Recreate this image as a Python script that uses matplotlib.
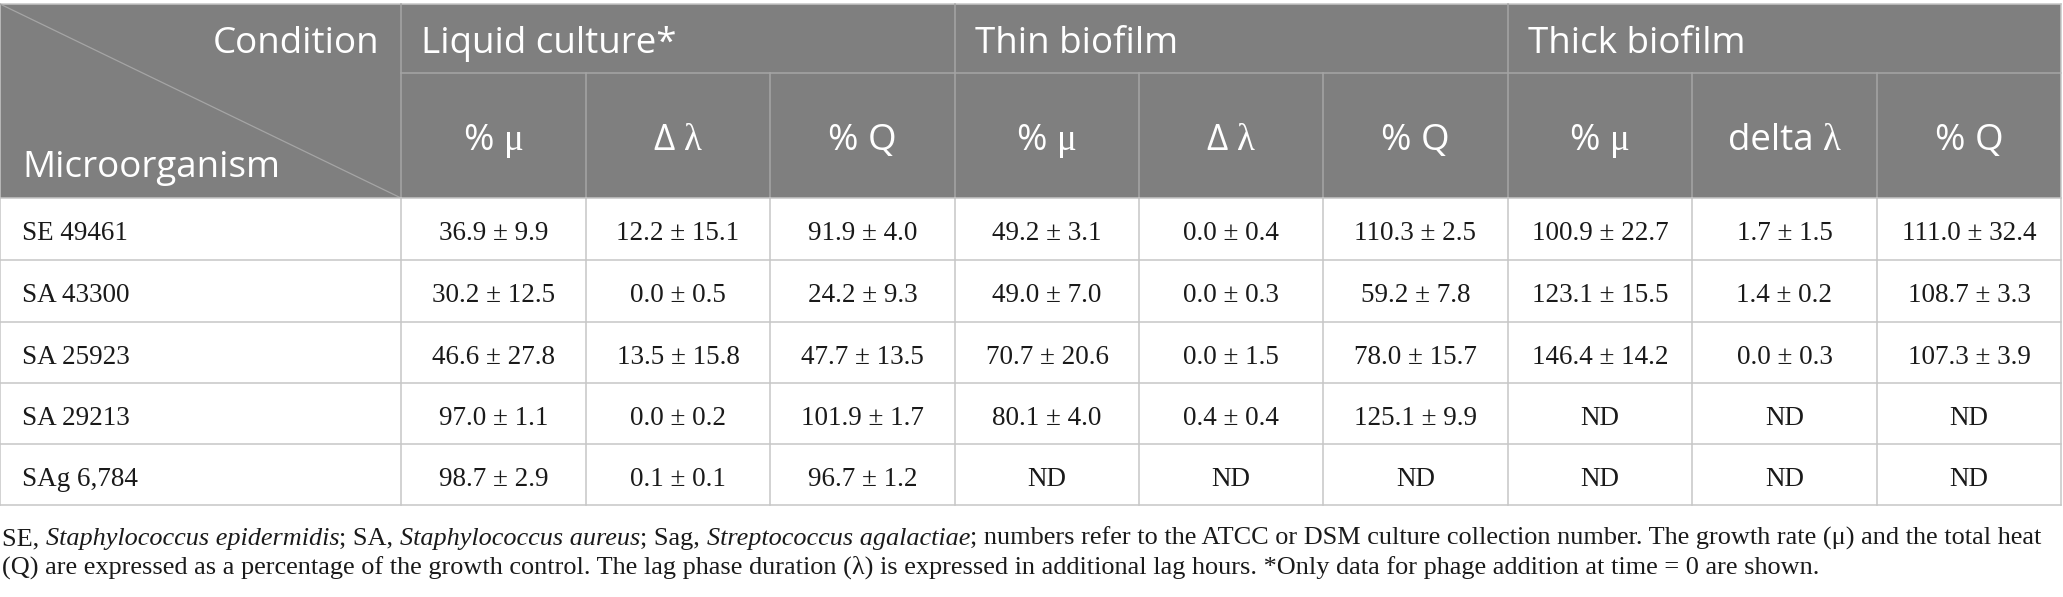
import matplotlib
matplotlib.use('Agg')
import matplotlib.pyplot as plt
from matplotlib.patches import Rectangle

# ---------------- data ----------------
microorganisms = ["SE 49461", "SA 43300", "SA 25923", "SA 29213", "SAg 6,784"]
conditions = ["Liquid culture*", "Thin biofilm", "Thick biofilm"]
# sub headers: (sans part, serif greek part)
sub_headers = [("% ", "μ"), ("Δ ", "λ"), ("% Q", ""), ("% ", "μ"), ("Δ ", "λ"), ("% Q", ""),
               ("% ", "μ"), ("delta ", "λ"), ("% Q", "")]
corner_top = "Condition"
corner_bottom = "Microorganism"

liquid_mu = ["36.9 ± 9.9", "30.2 ± 12.5", "46.6 ± 27.8", "97.0 ± 1.1", "98.7 ± 2.9"]
liquid_lag = ["12.2 ± 15.1", "0.0 ± 0.5", "13.5 ± 15.8", "0.0 ± 0.2", "0.1 ± 0.1"]
liquid_q = ["91.9 ± 4.0", "24.2 ± 9.3", "47.7 ± 13.5", "101.9 ± 1.7", "96.7 ± 1.2"]
thin_mu = ["49.2 ± 3.1", "49.0 ± 7.0", "70.7 ± 20.6", "80.1 ± 4.0", "ND"]
thin_lag = ["0.0 ± 0.4", "0.0 ± 0.3", "0.0 ± 1.5", "0.4 ± 0.4", "ND"]
thin_q = ["110.3 ± 2.5", "59.2 ± 7.8", "78.0 ± 15.7", "125.1 ± 9.9", "ND"]
thick_mu = ["100.9 ± 22.7", "123.1 ± 15.5", "146.4 ± 14.2", "ND", "ND"]
thick_lag = ["1.7 ± 1.5", "1.4 ± 0.2", "0.0 ± 0.3", "ND", "ND"]
thick_q = ["111.0 ± 32.4", "108.7 ± 3.3", "107.3 ± 3.9", "ND", "ND"]

caption_line1 = [
    ("SE, ", False), ("Staphylococcus epidermidis", True), ("; SA, ", False),
    ("Staphylococcus aureus", True), ("; Sag, ", False), ("Streptococcus agalactiae", True),
    ("; numbers refer to the ATCC or DSM culture collection number. The growth rate (μ) and the total heat", False),
]
caption_line2 = [
    ("(Q) are expressed as a percentage of the growth control. The lag phase duration (λ) is expressed "
     "in additional lag hours. *Only data for phage addition at time = 0 are shown.", False),
]

columns = [liquid_mu, liquid_lag, liquid_q, thin_mu, thin_lag, thin_q, thick_mu, thick_lag, thick_q]

# ---------------- layout (pixel units) ----------------
W, H = 2063, 597
fig = plt.figure(figsize=(W / 100, H / 100), dpi=100)
ax = fig.add_axes([0, 0, 1, 1])
ax.set_xlim(0, W)
ax.set_ylim(H, 0)
ax.axis('off')

col_edges = [0, 401, 586, 770, 955, 1139, 1323, 1508, 1692, 1877, 2061]
top, mid_head, head_bot = 4, 73, 198
row_edges = [198, 260, 322, 383, 444, 505]

HEAD_BG = '#7f7f7f'
HEAD_LINE = '#a5a5a5'
BODY_LINE = '#c6c6c6'
TEXT = '#1a1a1a'
LW = 1.1

sans = ['Open Sans', 'DejaVu Sans']
serif = ['Liberation Serif', 'DejaVu Serif']
head_fs = 26.5
body_fs = 19.5

# header background
ax.add_patch(Rectangle((col_edges[0], top), col_edges[-1] - col_edges[0], head_bot - top,
                       facecolor=HEAD_BG, edgecolor='none', zorder=0))

# header lines
ax.plot([col_edges[0], col_edges[-1]], [top, top], color=BODY_LINE, lw=LW)
ax.plot([col_edges[1], col_edges[-1]], [mid_head, mid_head], color=HEAD_LINE, lw=LW)
for i, x in enumerate(col_edges):
    if i in (0, 1, 4, 7, 10):
        ax.plot([x, x], [top, head_bot], color=HEAD_LINE if 0 < i < 10 else BODY_LINE, lw=LW)
    else:
        ax.plot([x, x], [mid_head, head_bot], color=HEAD_LINE, lw=LW)
# diagonal
ax.plot([col_edges[0], col_edges[1]], [top, head_bot], color=HEAD_LINE, lw=0.9)

# body lines
for y in row_edges:
    ax.plot([col_edges[0], col_edges[-1]], [y, y], color=BODY_LINE, lw=LW)
for x in col_edges:
    ax.plot([x, x], [row_edges[0], row_edges[-1]], color=BODY_LINE, lw=LW)

fig.canvas.draw()
renderer = fig.canvas.get_renderer()


def seg_width(txt, fam, fs, style='normal'):
    if not txt:
        return 0.0
    t1 = ax.text(0, 0, '|' + txt + '|', fontsize=fs, family=fam, style=style)
    t2 = ax.text(0, 0, '||', fontsize=fs, family=fam, style=style)
    w = t1.get_window_extent(renderer).width - t2.get_window_extent(renderer).width
    t1.remove()
    t2.remove()
    return w  # pixels (dpi 100, axes == figure)


# header text
ax.text(col_edges[1] - 22, 53, corner_top, color='white', fontsize=head_fs, family=sans,
        ha='right', va='baseline')
ax.text(22, 177, corner_bottom, color='white', fontsize=head_fs, family=sans,
        ha='left', va='baseline')
for k, name in enumerate(conditions):
    ax.text(col_edges[1 + 3 * k] + 20, 53, name, color='white', fontsize=head_fs, family=sans,
            ha='left', va='baseline')
for j, (s_part, g_part) in enumerate(sub_headers):
    xc = (col_edges[j + 1] + col_edges[j + 2]) / 2
    w1 = seg_width(s_part, sans, head_fs)
    w2 = seg_width(g_part, serif, head_fs)
    x0 = xc - (w1 + w2) / 2
    ax.text(x0, 150, s_part, color='white', fontsize=head_fs, family=sans, ha='left', va='baseline')
    if g_part:
        ax.text(x0 + w1, 150, g_part, color='white', fontsize=head_fs, family=serif,
                ha='left', va='baseline')

# body text
for r, name in enumerate(microorganisms):
    yb = row_edges[r] + 42
    ax.text(22, yb, name, fontsize=body_fs, family=serif, color=TEXT, ha='left', va='baseline')
    for j, col in enumerate(columns):
        xc = (col_edges[j + 1] + col_edges[j + 2]) / 2
        ax.text(xc, yb, col[r], fontsize=body_fs, family=serif, color=TEXT,
                ha='center', va='baseline')


# caption with mixed roman / italic segments
def line_width(segs, fs):
    return sum(seg_width(t, serif, fs, 'italic' if it else 'normal') for t, it in segs)


cap_fs = 20.0
target = 2040 - 2
cap_fs = cap_fs * target / line_width(caption_line1, cap_fs)


def draw_line(segs, y, fs):
    x = 2
    for txt, it in segs:
        st = 'italic' if it else 'normal'
        ax.text(x, y, txt, fontsize=fs, family=serif, style=st,
                color=TEXT, ha='left', va='baseline')
        x += seg_width(txt, serif, fs, st)


draw_line(caption_line1, 545, cap_fs)
draw_line(caption_line2, 574, cap_fs)

fig.savefig('out.png', dpi=100, facecolor='white')
